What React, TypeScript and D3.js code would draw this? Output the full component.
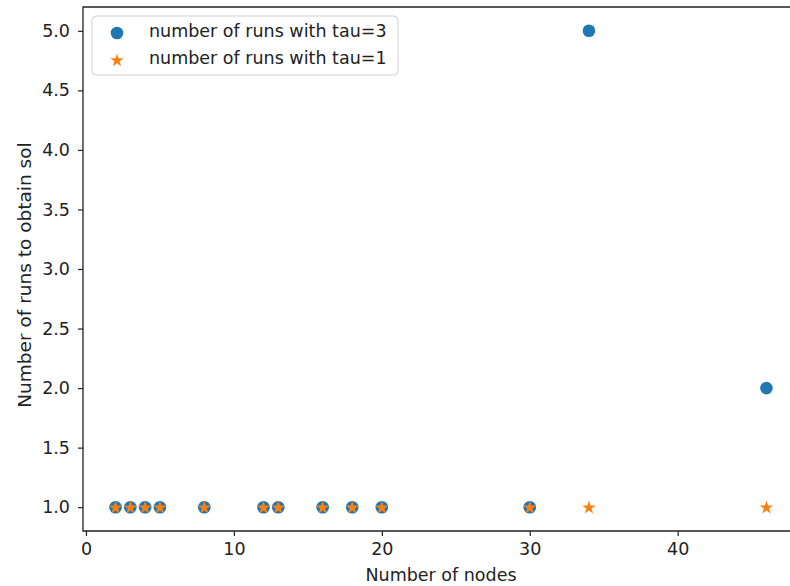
import React, { useEffect, useRef } from "react";
import * as d3 from "d3";

const nodes = [2, 3, 4, 5, 8, 12, 13, 16, 18, 20, 30, 34, 46];
const runsTau3 = [1, 1, 1, 1, 1, 1, 1, 1, 1, 1, 1, 5, 2];
const runsTau1 = [1, 1, 1, 1, 1, 1, 1, 1, 1, 1, 1, 1, 1];
const xTicks = [0, 10, 20, 30, 40];
const yTicks = [1.0, 1.5, 2.0, 2.5, 3.0, 3.5, 4.0, 4.5, 5.0];
const legendLabels = ["number of runs with tau=3", "number of runs with tau=1"];

const W = 790,
  H = 586;
const margin = { top: 7, right: -9, bottom: 55, left: 83 };
const FONT = "DejaVu Sans, sans-serif";
const FS = "17.5px";

const drawChart = (svgEl) => {
  const width = W - margin.left - margin.right,
    height = H - margin.top - margin.bottom;

  const x = d3.scaleLinear().domain([-0.2, 48.2]).range([0, width]);
  const y = d3.scaleLinear().domain([0.8, 5.2]).range([height, 0]);

  const root = d3.select(svgEl);
  root.selectAll("*").remove();
  root
    .append("rect")
    .attr("width", W)
    .attr("height", H)
    .attr("fill", "#fff");

  const svg = root
    .append("g")
    .attr("transform", `translate(${margin.left}, ${margin.top})`);

  // frame (right spine falls outside the picture)
  svg
    .append("path")
    .attr("d", `M${width},0H0V${height}H${width}`)
    .attr("fill", "none")
    .attr("stroke", "#222")
    .attr("stroke-width", 1.3);

  const xAxis = svg
    .append("g")
    .attr("transform", `translate(0, ${height})`)
    .call(
      d3
        .axisBottom(x)
        .tickValues(xTicks)
        .tickFormat(d3.format("d"))
        .tickSizeOuter(0)
        .tickSize(5)
        .tickPadding(7)
    );
  const yAxis = svg.append("g").call(
    d3
      .axisLeft(y)
      .tickValues(yTicks)
      .tickFormat(d3.format(".1f"))
      .tickSizeOuter(0)
      .tickSize(5)
      .tickPadding(8)
  );
  [xAxis, yAxis].forEach((a) => {
    a.select(".domain").remove();
    a.selectAll("line").attr("stroke", "#222").attr("stroke-width", 1.2);
    a.selectAll("text")
      .attr("fill", "#222")
      .style("font-family", FONT)
      .style("font-size", FS);
  });

  // tau=3 circles
  svg
    .append("g")
    .selectAll("circle")
    .data(nodes)
    .join("circle")
    .attr("cx", (d) => x(d))
    .attr("cy", (d, i) => y(runsTau3[i]))
    .attr("r", 6.3)
    .attr("fill", "#1f77b4");

  const star = d3.symbol().type(d3.symbolStar).size(56);
  svg
    .append("g")
    .selectAll("path")
    .data(nodes)
    .join("path")
    .attr("d", star)
    .attr("transform", (d, i) => `translate(${x(d)}, ${y(runsTau1[i]) + 0.5})`)
    .attr("fill", "#ff7f0e");

  // legend
  const lg = root.append("g").attr("transform", "translate(92, 16)");
  lg.append("rect")
    .attr("width", 306)
    .attr("height", 59)
    .attr("rx", 4)
    .attr("fill", "#fff")
    .attr("fill-opacity", 0.8)
    .attr("stroke", "#d0d0d0");
  lg.append("circle")
    .attr("cx", 25)
    .attr("cy", 17)
    .attr("r", 6.3)
    .attr("fill", "#1f77b4");
  lg.append("path")
    .attr("d", star)
    .attr("transform", "translate(25, 44.5)")
    .attr("fill", "#ff7f0e");
  legendLabels.forEach((t, i) => {
    lg.append("text")
      .attr("x", 57)
      .attr("y", 15 + i * 27)
      .attr("dy", "0.35em")
      .attr("fill", "#222")
      .style("font-family", FONT)
      .style("font-size", FS)
      .text(t);
  });

  root
    .append("text")
    .attr("x", 441)
    .attr("y", 581)
    .attr("text-anchor", "middle")
    .attr("fill", "#222")
    .style("font-family", FONT)
    .style("font-size", FS)
    .text("Number of nodes");
  root
    .append("text")
    .attr("transform", "translate(31, 275) rotate(-90)")
    .attr("text-anchor", "middle")
    .attr("fill", "#222")
    .style("font-family", FONT)
    .style("font-size", "18.5px")
    .text("Number of runs to obtain sol");
};

export default function App() {
  const ref = useRef(null);
  useEffect(() => {
    drawChart(ref.current);
  }, []);
  return (
    <div style={{ position: "fixed", left: 0, top: 0 }}>
      <svg ref={ref} width={W} height={H} style={{ display: "block" }} />
    </div>
  );
}
